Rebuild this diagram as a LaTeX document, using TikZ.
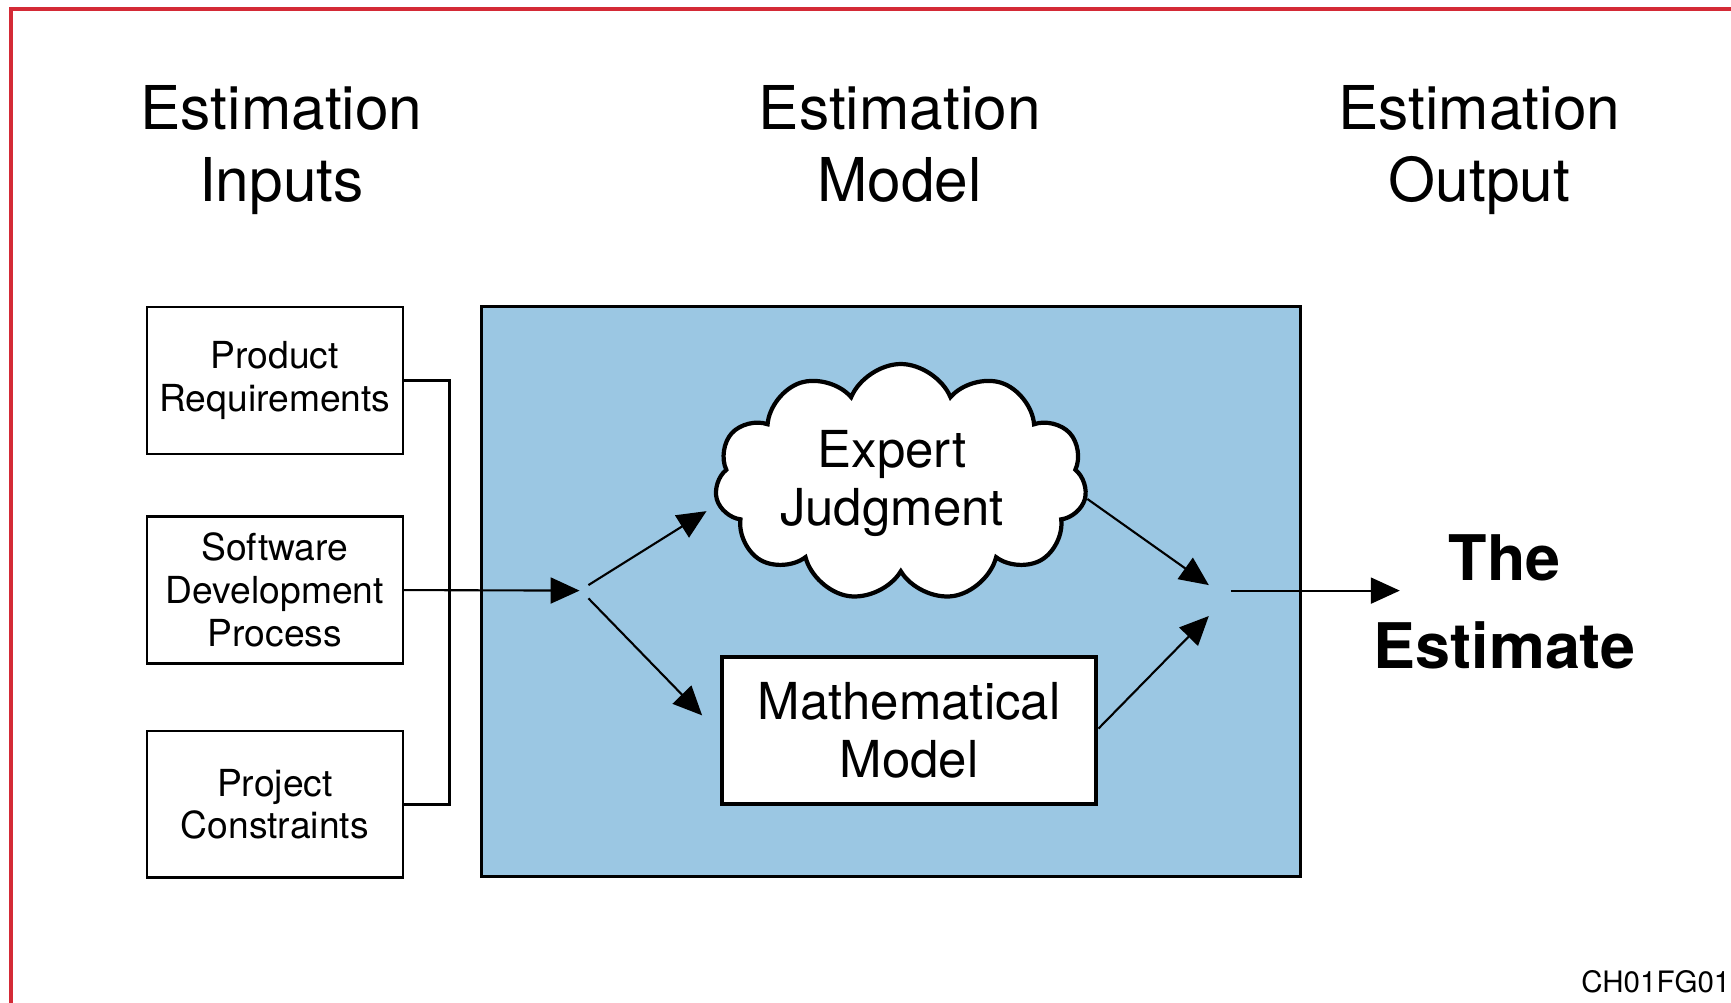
\documentclass[tikz,border=0pt]{standalone}
\usepackage{fontspec}
\setmainfont{TeX Gyre Heros}
\usetikzlibrary{arrows.meta,shapes.symbols}
\definecolor{modelblue}{HTML}{9BC7E3}
\definecolor{framered}{HTML}{D42A36}
\begin{document}
\begin{tikzpicture}[x=0.01104cm,y=-0.01104cm,
  head/.style={anchor=north,align=center,inner sep=0pt,font=\fontsize{17.2}{20.3}\selectfont},
  inbox/.style={draw,line width=0.7pt,minimum width=2.56cm,minimum height=1.47cm,align=center,inner sep=0pt,font=\fontsize{10.6}{12.2}\selectfont},
  inner/.style={align=center,inner sep=0pt,font=\fontsize{14.5}{16.6}\selectfont},
  arr/.style={line width=0.6pt,-{Triangle[length=0.29cm,width=0.26cm]}}]
\useasboundingbox (0,0) rectangle (1568,908.5);
\draw[framered,line width=1pt] (10,908.5) -- (10,8) -- (1568,8);
\node[head] (hIn) at (255,77) {Estimation\\Inputs};
\node[head] (hMod) at (815,77) {Estimation\\Model};
\node[head] (hOut) at (1340,77) {Estimation\\Output};
\node[inbox] (pr) at (249,344.5) {Product\\Requirements};
\node[inbox] (sdp) at (249,534.5) {Software\\Development\\Process};
\node[inbox] (pc) at (249,728.5) {Project\\Constraints};
\node[draw,line width=0.9pt,fill=modelblue,minimum width=8.19cm,minimum height=5.70cm] (model) at (807,536) {};
\node[draw,fill=white,line width=1.2pt,cloud,cloud puffs=11,cloud puff arc=135,inner sep=0pt,minimum width=3.72cm,minimum height=2.37cm] (ejShape) at (816,437) {};
\node[inner] (ej) at (808,438) {Expert\\Judgment};
\node[inner,draw,fill=white,line width=1.2pt,minimum width=3.74cm,minimum height=1.47cm] (mm) at (823.5,661.5) {Mathematical\\Model};
\node[align=center,font=\bfseries\fontsize{17.9}{25}\selectfont] (est) at (1363,545) {The\\Estimate};
\node[anchor=south east,inner sep=0pt,font=\fontsize{8.4}{10}\selectfont] (fig) at (1568,900) {CH01FG01};
\coordinate (brk) at (407,536);
\coordinate (hub) at (525,535);
\coordinate (splitA) at (533,530);
\coordinate (splitB) at (533,542);
\coordinate (ejIn) at (640,463);
\coordinate (mmIn) at (636,648);
\coordinate (ejOut) at (985,452);
\coordinate (mmOut) at (995,660);
\coordinate (mergeA) at (1095,530);
\coordinate (mergeB) at (1095,558);
\coordinate (outStart) at (1115,535);
\coordinate (outEnd) at (1268,535);
\draw[line width=0.8pt] (pr.east) -| (brk) |- (pc.east);
\draw[arr] (sdp.east) -- (hub);
\draw[arr] (splitA) -- (ejIn);
\draw[arr] (splitB) -- (mmIn);
\draw[arr] (ejOut) -- (mergeA);
\draw[arr] (mmOut) -- (mergeB);
\draw[arr] (outStart) -- (outEnd);
\end{tikzpicture}
\end{document}
